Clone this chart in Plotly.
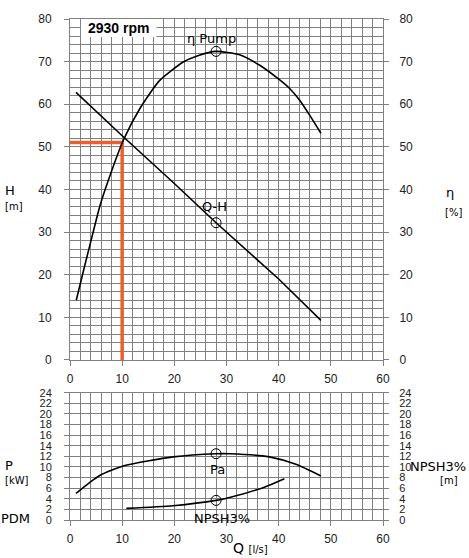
import plotly.graph_objects as go

# Q-H curve [l/s, m]
q_h = [1.15, 10, 20, 28, 40, 48.1]
h = [62.8, 52.6, 41.4, 32.2, 19.0, 9.3]

# efficiency curve [l/s, %]
q_eta = [1.2, 2.9, 4.5, 5.7, 7.3, 10.2, 13.4, 17.2, 21.7, 24.5, 28, 32.5, 36.3, 40.2, 42.1, 44.0, 45.9, 48.1]
eta = [14, 22.5, 30.3, 36, 42, 51.5, 59, 65.6, 69.9, 71.4, 72.4, 71.6, 69.2, 65.7, 63.7, 61.0, 57.5, 53.2]

# shaft power Pa [l/s, kW]
q_p = [1.15, 3.8, 5.7, 10.2, 19.75, 28, 30.6, 38.2, 43.3, 48.1]
p = [5.0, 7.1, 8.4, 10.2, 11.9, 12.5, 12.5, 11.9, 10.5, 8.3]

# NPSH3% [l/s, m]
q_npsh = [10.8, 19.75, 28, 30.6, 37, 41.1]
npsh = [2.2, 2.7, 3.7, 4.25, 6.1, 7.8]

# duty point
q_duty = 10
h_duty = 51
q_mark = 28

grid = '#808080'
font_tick = dict(family='Liberation Sans', size=12, color='#222222')
font_tick_s = dict(family='Liberation Sans', size=11, color='#222222')
txt = 'DejaVu Sans'

W, H = 469, 558
ml, mr, mt, mb = 70, 86, 17, 37


def px(x):
    return (x - ml) / (W - ml - mr)


def py(y):
    return (H - mb - y) / (H - mt - mb)


def interp(xs, ys, x0):
    for i in range(len(xs) - 1):
        if xs[i] <= x0 <= xs[i + 1]:
            t = (x0 - xs[i]) / (xs[i + 1] - xs[i])
            return ys[i] + t * (ys[i + 1] - ys[i])
    return ys[-1]


fig = go.Figure()

line = dict(color='black', width=1.6, shape='spline', smoothing=0.6)
fig.add_trace(go.Scatter(x=q_h, y=h, mode='lines', line=dict(color='black', width=1.6),
                         xaxis='x', yaxis='y'))
fig.add_trace(go.Scatter(x=q_eta, y=eta, mode='lines', line=line, xaxis='x', yaxis='y2'))
fig.add_trace(go.Scatter(x=[0, q_duty, q_duty], y=[h_duty, h_duty, 0], mode='lines',
                         line=dict(color='#E8602C', width=3.5), xaxis='x', yaxis='y'))
fig.add_trace(go.Scatter(x=q_p, y=p, mode='lines', line=line, xaxis='x2', yaxis='y3'))
fig.add_trace(go.Scatter(x=q_npsh, y=npsh, mode='lines', line=line, xaxis='x2', yaxis='y4'))

mk = dict(symbol='circle-open', size=10, color='black', line=dict(width=1))
fig.add_trace(go.Scatter(x=[q_mark], y=[interp(q_h, h, q_mark)], mode='markers', marker=mk,
                         xaxis='x', yaxis='y'))
fig.add_trace(go.Scatter(x=[q_mark], y=[interp(q_eta, eta, q_mark)], mode='markers', marker=mk,
                         xaxis='x', yaxis='y2'))
fig.add_trace(go.Scatter(x=[q_mark], y=[interp(q_p, p, q_mark)], mode='markers', marker=mk,
                         xaxis='x2', yaxis='y3'))
fig.add_trace(go.Scatter(x=[q_mark], y=[interp(q_npsh, npsh, q_mark)], mode='markers', marker=mk,
                         xaxis='x2', yaxis='y4'))

xax = dict(range=[0, 60], dtick=10, showgrid=True, gridcolor=grid, gridwidth=1,
           minor=dict(dtick=2, showgrid=True, gridcolor=grid, gridwidth=1),
           showline=True, linecolor=grid, mirror=True, zeroline=False,
           ticks='outside', ticklen=5, tickcolor=grid, tickfont=font_tick,
           ticklabelstandoff=3, fixedrange=True)
yax = dict(showgrid=True, gridcolor=grid, gridwidth=1, zeroline=False,
           showline=True, linecolor=grid, mirror=True,
           ticks='outside', ticklen=5, tickcolor=grid, tickfont=font_tick,
           ticklabelstandoff=10)
yax_r = dict(side='right', showgrid=False, zeroline=False, ticks='outside', ticklen=5,
             tickcolor=grid, ticklabelstandoff=8)

fig.update_layout(
    width=W, height=H,
    margin=dict(l=ml, r=mr, t=mt, b=mb),
    paper_bgcolor='white', plot_bgcolor='white',
    showlegend=False,
    xaxis=dict(xax, domain=[0, 1], anchor='y'),
    xaxis2=dict(xax, domain=[0, 1], anchor='y3'),
    yaxis=dict(yax, domain=[py(360), 1], range=[0, 80], dtick=10,
               minor=dict(dtick=2, showgrid=True, gridcolor=grid, gridwidth=1)),
    yaxis2=dict(yax_r, domain=[py(360), 1], range=[0, 80], dtick=10, overlaying='y',
                anchor='x', tickfont=font_tick),
    yaxis3=dict(yax, domain=[0, py(393)], range=[0, 24], dtick=2, tickfont=font_tick_s),
    yaxis4=dict(yax_r, domain=[0, py(393)], range=[0, 24], dtick=2, overlaying='y3',
                anchor='x2', tickfont=font_tick_s),
)

# white box behind the speed label
fig.add_shape(type='rect', xref='x', yref='y', x0=2.1, x1=16.6, y0=75.8, y1=80,
              fillcolor='white', line=dict(width=0), layer='above')
fig.add_annotation(x=9.3, y=77.9, xref='x', yref='y', text='<b>2930 rpm</b>', showarrow=False,
                   font=dict(family='Liberation Sans', size=14, color='black'))

# curve labels
labels = [
    ('η Pump', 27.1, 75.4, 'x', 'y'),
    ('Q-H', 27.7, 36.0, 'x', 'y'),
    ('Pa', 28.3, 9.6, 'x2', 'y3'),
    ('NPSH3%', 29.1, 0.3, 'x2', 'y3'),
]
for t, x, y, xr, yr in labels:
    fig.add_annotation(x=x, y=y, xref=xr, yref=yr, text=t, showarrow=False,
                       font=dict(family=txt, size=13, color='black'))

# axis titles
titles = [
    ('H', 3, 190, 13),
    ('[m]', 3, 206, 10),
    ('η', 444, 192, 13),
    ('[%]', 443, 212, 10),
    ('P', 3, 466, 13),
    ('[kW]', 3, 481, 10),
    ('PDM', -1, 519, 13),
    ('NPSH3%', 408, 467, 13),
    ('[m]', 438, 481, 10),
]
for t, x, y, s in titles:
    fig.add_annotation(x=px(x), y=py(y), xref='paper', yref='paper', text=t, showarrow=False,
                       xanchor='left', yanchor='middle',
                       font=dict(family=txt, size=s, color='black'))

fig.add_annotation(x=px(231), y=py(549), xref='paper', yref='paper',
                   text='Q <span style="font-size:10px">[l/s]</span>', showarrow=False,
                   xanchor='left', yanchor='middle', font=dict(family=txt, size=14, color='black'))

# page margin off so the figure fills the window
fig.write_html("out.html", config={'displayModeBar': False},
               post_script="document.body.style.margin='0';")
